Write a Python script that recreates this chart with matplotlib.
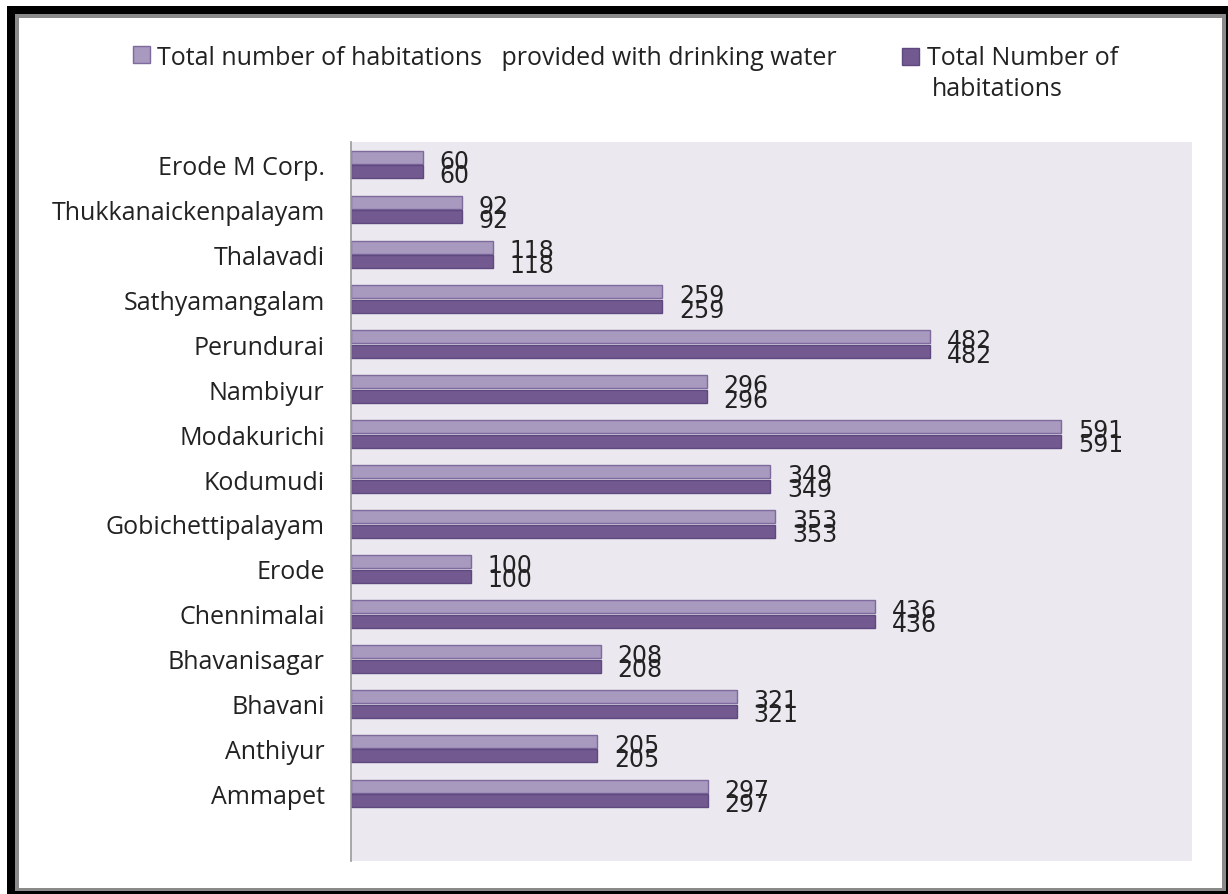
"""Habitations provided with drinking water, Erode district blocks."""
import matplotlib
matplotlib.use("Agg")
import matplotlib.pyplot as plt
from matplotlib.patches import Rectangle

blocks = [
    "Erode M Corp.", "Thukkanaickenpalayam", "Thalavadi", "Sathyamangalam",
    "Perundurai", "Nambiyur", "Modakurichi", "Kodumudi", "Gobichettipalayam",
    "Erode", "Chennimalai", "Bhavanisagar", "Bhavani", "Anthiyur", "Ammapet",
]
provided = [60, 92, 118, 259, 482, 296, 591, 349, 353, 100, 436, 208, 321, 205, 297]
total = [60, 92, 118, 259, 482, 296, 591, 349, 353, 100, 436, 208, 321, 205, 297]
legend_labels = [
    "Total number of habitations   provided with drinking water",
    "Total Number of habitations",
]

LIGHT = "#A899BF"
DARK = "#72598F"
LIGHT_EDGE = "#7E6A9C"
DARK_EDGE = "#5E4880"
BG = "#EBE9EF"
FONT = "Open Sans"
TXT = "#222222"

W, H = 1228, 895
fig = plt.figure(figsize=(W / 100, H / 100), dpi=100)

# picture frame: black outer, grey bevel, white inside
fig.patches.append(Rectangle((7 / W, 0), 1 - 7 / W, 1 - 7 / H, transform=fig.transFigure,
                             facecolor="black", edgecolor="none", zorder=-3))
fig.patches.append(Rectangle((15 / W, 3 / H), 1211 / W, 877 / H, transform=fig.transFigure,
                             facecolor="#8A8A8A", edgecolor="none", zorder=-2))
fig.patches.append(Rectangle((19 / W, 6 / H), 1203 / W, 870 / H, transform=fig.transFigure,
                             facecolor="white", edgecolor="none", zorder=-1))

ax = fig.add_axes([351 / W, 1 - 862 / H, (1192 - 351) / W, (862 - 143) / H])
ax.set_facecolor(BG)

pos = list(range(len(blocks)))
h = 0.29
off = 0.163
ax.barh([p - off for p in pos], provided, height=h, color=LIGHT, edgecolor=LIGHT_EDGE,
        linewidth=1.0)
ax.barh([p + off for p in pos], total, height=h, color=DARK, edgecolor=DARK_EDGE,
        linewidth=1.0)

for p, v in zip(pos, provided):
    ax.annotate(str(v), (v, p - off), xytext=(12, -2.5), textcoords="offset points",
                va="center", ha="left", fontsize=17, family="DejaVu Sans", color=TXT)
for p, v in zip(pos, total):
    ax.annotate(str(v), (v, p + off), xytext=(12, -2.2), textcoords="offset points",
                va="center", ha="left", fontsize=17, family="DejaVu Sans", color=TXT)

ax.set_xlim(0, 700)
ax.set_ylim(len(blocks) + 0.5, -0.5)
ax.set_yticks(pos)
ax.set_yticklabels(blocks, family=FONT, fontsize=18, color=TXT)
ax.tick_params(axis="y", length=0, pad=19)
ax.set_xticks([])
for side in ("top", "right", "bottom"):
    ax.spines[side].set_visible(False)
ax.spines["left"].set_color("#9A9A9A")
ax.spines["left"].set_linewidth(1.2)

# legend drawn in figure pixels
first, second = legend_labels[1].rsplit(" ", 1)
legend_items = [
    ((133, 47), LIGHT, LIGHT_EDGE, [(157, 65, legend_labels[0])]),
    ((902, 49), DARK, DARK_EDGE, [(927, 65, first), (932, 96, second)]),
]
for (x0, y0), color, edge, lines in legend_items:
    fig.patches.append(Rectangle((x0 / W, 1 - (y0 + 17) / H), 17 / W, 17 / H,
                                 transform=fig.transFigure, facecolor=color,
                                 edgecolor=edge, linewidth=1.0))
    for tx, ty, txt in lines:
        fig.text(tx / W, 1 - ty / H, txt, ha="left", va="baseline",
                 family=FONT, fontsize=18, color=TXT)

fig.savefig("out.png", dpi=100)
